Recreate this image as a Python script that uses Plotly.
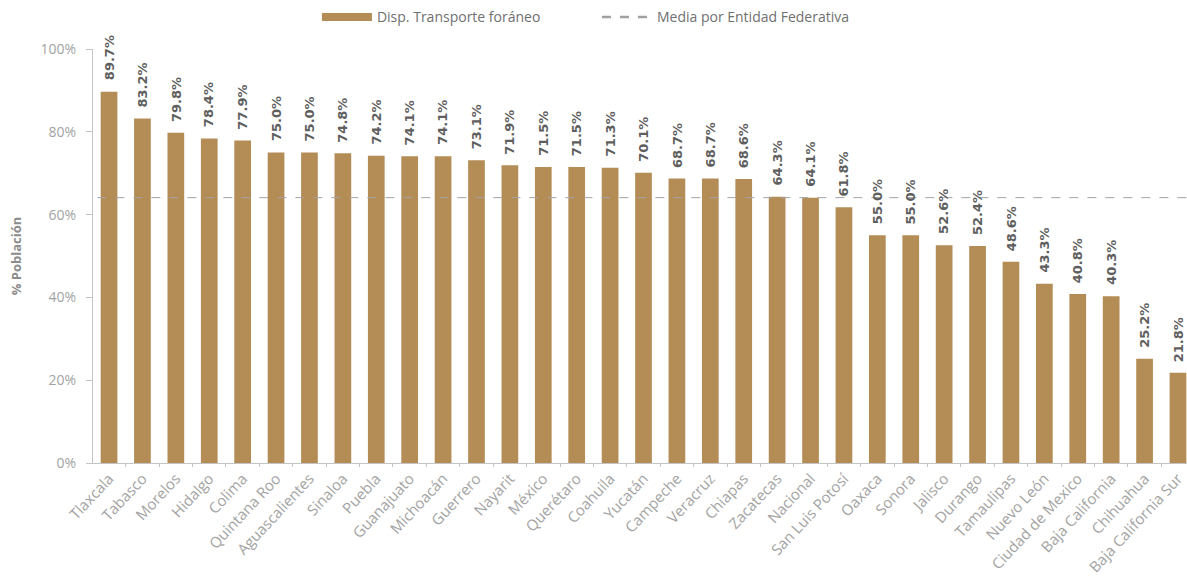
import plotly.graph_objects as go

estados = ["Tlaxcala", "Tabasco", "Morelos", "Hidalgo", "Colima", "Quintana Roo",
           "Aguascalientes", "Sinaloa", "Puebla", "Guanajuato", "Michoacán", "Guerrero",
           "Nayarit", "México", "Querétaro", "Coahuila", "Yucatán", "Campeche", "Veracruz",
           "Chiapas", "Zacatecas", "Nacional", "San Luis Potosí", "Oaxaca", "Sonora",
           "Jalisco", "Durango", "Tamaulipas", "Nuevo León", "Ciudad de Mexico",
           "Baja California", "Chihuahua", "Baja California Sur"]
valores = [89.7, 83.2, 79.8, 78.4, 77.9, 75.0, 75.0, 74.8, 74.2, 74.1, 74.1, 73.1,
           71.9, 71.5, 71.5, 71.3, 70.1, 68.7, 68.7, 68.6, 64.3, 64.1, 61.8, 55.0,
           55.0, 52.6, 52.4, 48.6, 43.3, 40.8, 40.3, 25.2, 21.8]
media = 64.1
y_ticks = [0, 20, 40, 60, 80, 100]
y_ticktext = ["0%", "20%", "40%", "60%", "80%", "100%"]

FONT = "Open Sans"
LABEL_FONT = "DejaVu Sans"
BAR = "#B38C56"
GRAY = "#a3a3a3"

fig = go.Figure()
fig.add_trace(go.Bar(
    x=estados, y=valores, name="Disp. Transporte foráneo", showlegend=False,
    marker=dict(color=BAR, line=dict(width=0)), width=0.5,
))
# legend entries
fig.add_trace(go.Scatter(
    x=[None], y=[None], mode="lines", name="Disp. Transporte foráneo",
    line=dict(color=BAR, width=8),
))
fig.add_trace(go.Scatter(
    x=[None], y=[None], mode="lines", name="Media por Entidad Federativa",
    line=dict(color="#a0a0a0", dash="dash", width=2.5),
))
fig.add_shape(type="line", xref="paper", yref="y", x0=0.004, x1=1, y0=media, y1=media,
              line=dict(color="#a3a3a3", dash="dash", width=1))

for e, v in zip(estados, valores):
    fig.add_annotation(x=e, y=v, text=f"<b>{v:.1f}%</b>", showarrow=False,
                       textangle=-90, xanchor="center", yanchor="bottom", yshift=9,
                       font=dict(family=LABEL_FONT, size=13, color="#5e5e5e"))

fig.update_layout(
    width=1187, height=577,
    margin=dict(l=93, r=0, t=49, b=114, autoexpand=False),
    plot_bgcolor="white", paper_bgcolor="white",
    font=dict(family=FONT, color=GRAY),
    bargap=0.5,
    showlegend=True,
    legend=dict(orientation="h", xref="container", x=0.267, xanchor="left",
                yref="container", y=0.97, yanchor="middle",
                font=dict(family=FONT, size=14, color="#707070"),
                itemwidth=50, entrywidth=215, tracegroupgap=0),
    xaxis=dict(range=[-0.48, 32.27], tickangle=-47, tickfont=dict(family=FONT, size=15, color=GRAY),
               showline=True, linecolor="#c4c4c4", ticks="outside", ticklen=3, tickcolor="#c4c4c4",
               tickson="boundaries", showgrid=False, automargin=False),
    yaxis=dict(range=[0, 100], tickvals=y_ticks, ticktext=y_ticktext,
               tickfont=dict(family=FONT, size=14, color=GRAY),
               showline=True, linecolor="#c4c4c4", ticks="outside", ticklen=6, tickcolor="#c4c4c4",
               showgrid=False, zeroline=False, automargin=False, ticklabelstandoff=7,
               title=dict(text="<b>% Población</b>", standoff=16,
                          font=dict(family=FONT, size=13, color="#8c8c8c"))),
)

fig.write_html("out.html", config={"displayModeBar": False},
               post_script="document.body.style.margin='0';document.body.style.overflow='hidden';")
